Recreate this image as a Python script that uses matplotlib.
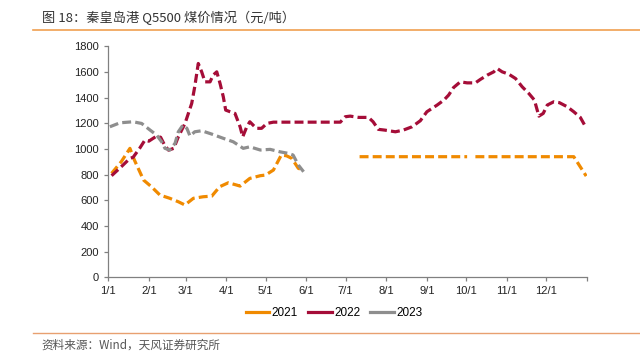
import matplotlib
matplotlib.use("Agg")
import matplotlib.pyplot as plt
import numpy as np
from matplotlib.lines import Line2D

plt.rcParams['font.family'] = ['Liberation Sans', 'Noto Sans CJK SC', 'DejaVu Sans']

# Day-of-year positions (0 = Jan 1)
month_ticks = [0, 31, 59, 90, 120, 151, 181, 212, 243, 273, 304, 334, 365]
month_labels = ["1/1", "2/1", "3/1", "4/1", "5/1", "6/1", "7/1", "8/1", "9/1", "10/1", "11/1", "12/1", ""]

d2021 = [2.6, 10, 16.6, 20, 27, 33, 39.5, 47, 53.5, 58.5, 65, 72.5, 79, 85, 91.6, 98, 100.6, 108, 116, 120,
         126, 132, 136, 140, 145, 149,
         150, 191.7, 273.7, 276, 280, 355, 364.5]
v2021 = [809, 900, 1004, 913, 757, 705, 640, 615, 588, 563, 615, 627, 632, 705, 736, 718, 710, 770, 791, 796,
         835, 952, 946, 926, 848, 835,
         np.nan, 939, 939, np.nan, 939, 939, 788]

d2022 = [2.6, 10, 16.6, 19, 24, 28, 31, 37, 40, 43, 46, 50, 53.5, 58.6, 63.7, 66, 68.7, 71.3, 73.8, 77.7,
         80, 82.8, 85.3, 87.8, 89.6, 93, 96.7, 100.6, 102.6, 105.7, 108, 111, 113, 117, 121, 126, 177,
         180.7, 184.5, 191, 198.5, 202, 206, 211, 219, 225, 231.7, 238, 243, 250.8, 256, 259.6, 263.4,
         268.5, 273.7, 280, 283.8, 289, 294, 296.6, 300.4, 305.4, 310.6, 315.7, 320.7, 325, 328.4, 331.7,
         334.8, 339.8, 344, 350, 355, 360, 364]
v2022 = [791, 861, 926, 934, 1004, 1068, 1060, 1100, 1090, 1030, 990, 1004, 1094, 1198, 1354, 1483, 1665,
         1600, 1522, 1522, 1574, 1600, 1510, 1405, 1302, 1289, 1276, 1172, 1094, 1172, 1211, 1180, 1160,
         1160, 1198, 1208, 1208, 1250, 1255, 1245, 1245, 1211, 1152, 1146, 1133, 1146, 1172, 1219, 1289,
         1341, 1380, 1419, 1478, 1522, 1514, 1514, 1541, 1574, 1600, 1626, 1600, 1582, 1548, 1483, 1432,
         1380, 1255, 1276, 1341, 1367, 1360, 1328, 1289, 1245, 1172]

d2023 = [1.3, 9, 19, 25.5, 32, 37, 40.8, 43.3, 47, 51, 53.5, 57, 60, 62.4, 66, 71.3, 79, 87.8, 95.4, 103,
         108, 116, 123.5, 131, 137.4, 141, 145, 149]
v2023 = [1172, 1203, 1211, 1198, 1146, 1107, 1055, 1004, 991, 1043, 1133, 1185, 1160, 1100, 1133, 1141,
         1115, 1082, 1055, 1004, 1016, 991, 996, 977, 965, 952, 874, 822]

c2021 = "#F08A00"
c2022 = "#A50D38"
c2023 = "#8E8E8E"

fig = plt.figure(figsize=(6.4, 3.55), dpi=100)
ax = fig.add_axes([0.169, 0.219, 0.748, 0.651])

lw = 2.3
dash = (2.8, 1.3)
ax.plot(d2021, v2021, color=c2021, lw=lw, dashes=dash, dash_capstyle='butt')
ax.plot(d2022, v2022, color=c2022, lw=lw, dashes=dash, dash_capstyle='butt')
ax.plot(d2023, v2023, color=c2023, lw=lw, dashes=dash, dash_capstyle='butt')

ax.set_xlim(0, 365)
ax.set_ylim(0, 1800)
ax.set_xticks(month_ticks)
ax.set_xticklabels(month_labels)
ax.set_yticks(np.arange(0, 1801, 200))
for s in ['top', 'right']:
    ax.spines[s].set_visible(False)
for s in ['left', 'bottom']:
    ax.spines[s].set_color('#808080')
    ax.spines[s].set_linewidth(0.9)
ax.tick_params(axis='both', colors='#808080', labelcolor='#222222', labelsize=8, length=3, width=0.9)

handles = [Line2D([0], [0], color=c, lw=2.3) for c in (c2021, c2022, c2023)]
fig.legend(handles, ["2021", "2022", "2023"], loc='center', bbox_to_anchor=(0.522, 0.117), ncol=3,
           frameon=False, fontsize=8.5, handlelength=2.0, handletextpad=0.2, columnspacing=0.85,
           borderpad=0.2)

fig.text(0.065, 0.951, "图 18：秦皇岛港 Q5500 煤价情况（元/吨）", fontsize=9.5, color='#333333',
         fontweight='medium', family=['Noto Sans CJK SC', 'DejaVu Sans'], va='center', ha='left')
fig.add_artist(Line2D([0.051, 1.0], [0.915, 0.915], color='#F0A050', lw=1.2))
fig.add_artist(Line2D([0.051, 1.0], [0.061, 0.061], color='#E8A070', lw=1.0))
fig.text(0.065, 0.027, "资料来源：Wind，天风证券研究所", fontsize=8.4, color='#555555',
         family=['Noto Sans CJK SC', 'DejaVu Sans'], va='center', ha='left')

fig.savefig("out.png", dpi=100)
